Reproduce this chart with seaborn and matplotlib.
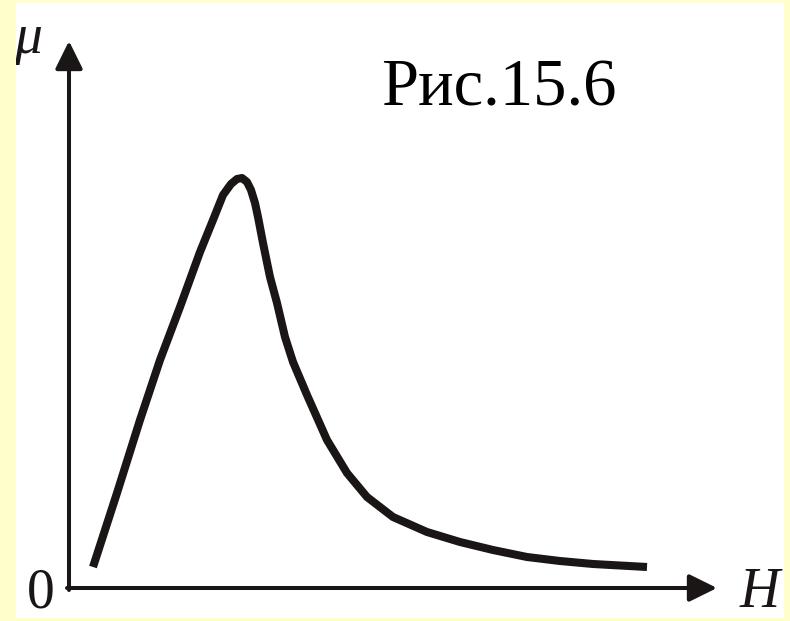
import numpy as np
import pandas as pd
import seaborn as sns
import matplotlib.pyplot as plt

# curve mu(H) (arbitrary units)
H_vals = [0.24, 0.48, 0.71, 0.91, 1.11, 1.31, 1.44, 1.54, 1.62, 1.68, 1.73, 1.78,
          1.82, 1.86, 1.89, 1.94, 2.01, 2.08, 2.16, 2.24, 2.38, 2.58, 2.78, 2.98,
          3.24, 3.58, 3.91, 4.24, 4.58, 4.91, 5.24, 5.78]
mu_vals = [0.21, 0.95, 1.68, 2.28, 2.81, 3.36, 3.68, 3.93, 4.04, 4.09, 4.10, 4.06,
           3.98, 3.85, 3.71, 3.45, 3.11, 2.85, 2.51, 2.26, 1.93, 1.48, 1.15, 0.91,
           0.71, 0.56, 0.46, 0.38, 0.31, 0.27, 0.24, 0.21]
x_label = 'H'
y_label = 'μ'
origin_label = '0'
caption = 'Рис.15.6'

df = pd.DataFrame({'H': H_vals, 'mu': mu_vals})

sns.set_style('white')
plt.rcParams['font.family'] = ['Liberation Serif', 'DejaVu Serif']
serif = 'Liberation Serif'

ink = '#1b1616'
fig = plt.figure(figsize=(7.9, 6.21), dpi=100)
fig.patch.set_facecolor('#ffffcc')
ax = fig.add_axes([16 / 790, 3 / 621, 768 / 790, 615 / 621])
ax.set_facecolor('white')

sns.lineplot(data=df, x='H', y='mu', sort=False, estimator=None, ax=ax,
             color=ink, lw=5.8, solid_capstyle='butt', solid_joinstyle='round')

ax.set_xlim(-0.53, 7.15)
ax.set_ylim(-0.30, 5.85)
for s in ax.spines.values():
    s.set_visible(False)
ax.set_xticks([])
ax.set_yticks([])
ax.set_xlabel('')
ax.set_ylabel('')

# axes with arrows
arrow = dict(arrowstyle='-|>,head_length=0.85,head_width=0.42', mutation_scale=20,
             lw=2.9, color=ink, shrinkA=0, shrinkB=0)
ax.annotate('', xy=(0, 5.47), xytext=(0, -0.02), arrowprops=arrow)
ax.annotate('', xy=(6.48, 0), xytext=(-0.02, 0), arrowprops=arrow)

ax.text(-0.55, 5.35, y_label, fontsize=40, style='italic', ha='left',
        va='baseline', color=ink, family=serif, clip_on=True)
ax.text(-0.28, -0.19, origin_label, fontsize=40, ha='center', va='baseline',
        color=ink, family=serif)
ax.text(6.91, -0.19, x_label, fontsize=40, style='italic', ha='center',
        va='baseline', color=ink, family=serif)
ax.text(4.30, 4.83, caption, fontsize=48, ha='center', va='baseline',
        color='black', family=serif)

fig.savefig('out.png', dpi=100, facecolor=fig.get_facecolor())
